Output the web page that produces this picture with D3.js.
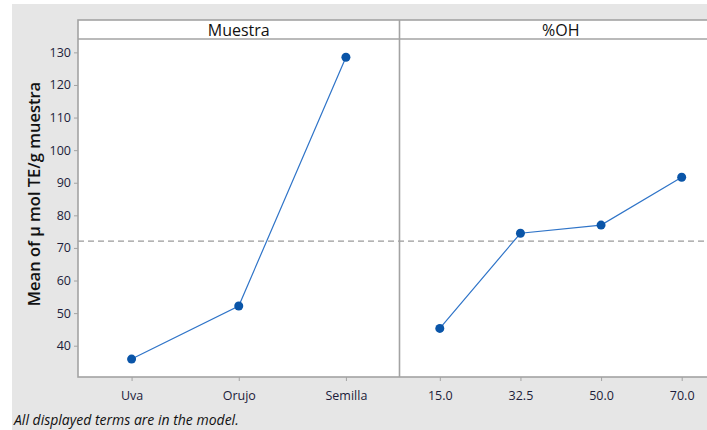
<!DOCTYPE html>
<html>
<head>
<meta charset="utf-8">
<script src="https://cdn.jsdelivr.net/npm/d3@7"></script>
<style>
  html, body { margin: 0; padding: 0; background: #ffffff; }
  svg { display: block; }
</style>
</head>
<body>
<svg id="chart" width="707" height="430"></svg>
<script>
// Main effects plot for antioxidant capacity (μmol TE/g sample)
const muestraLevels = ["Uva", "Orujo", "Semilla"];
const muestraMeans = [35.9, 52.2, 128.5];
const ohLevels = ["15.0", "32.5", "50.0", "70.0"];
const ohMeans = [45.3, 74.5, 77.0, 91.7];
const grandMean = 72.1;
const yTicks = [40, 50, 60, 70, 80, 90, 100, 110, 120, 130];
const panelTitles = ["Muestra", "%OH"];
const yLabel = "Mean of μ mol TE/g muestra";
const footnote = "All displayed terms are in the model.";

const svg = d3.select("#chart");
const font = "'Segoe UI', 'Open Sans', 'Noto Sans', sans-serif";
const frameColor = "#a3a3a3";
const textColor = "#1c1c3a";
const lineColor = "#2f74c8";
const dotColor = "#0a55a8";

// page background
svg.append("rect").attr("x", 12).attr("y", 4).attr("width", 707).attr("height", 430)
  .attr("fill", "#e6e6e6");

const plotTop = 20, stripBottom = 39, plotBottom = 377;
const panels = [
  { x0: 78, x1: 399.5, levels: muestraLevels, means: muestraMeans, title: panelTitles[0] },
  { x0: 399.5, x1: 722, levels: ohLevels, means: ohMeans, title: panelTitles[1] }
];

const y = d3.scaleLinear().domain([30.4, 134.1]).range([plotBottom, stripBottom]);

// white plotting area
svg.append("rect").attr("x", panels[0].x0).attr("y", plotTop)
  .attr("width", panels[1].x1 - panels[0].x0).attr("height", plotBottom - plotTop)
  .attr("fill", "#ffffff");

// overall mean reference line
svg.append("line")
  .attr("x1", panels[0].x0).attr("x2", panels[1].x1)
  .attr("y1", y(grandMean)).attr("y2", y(grandMean))
  .attr("stroke", "#9a9a9a").attr("stroke-width", 1.2)
  .attr("stroke-dasharray", "6,4");

panels.forEach(p => {
  const x = d3.scalePoint().domain(p.levels).range([p.x0, p.x1]).padding(0.5);

  // strip header
  svg.append("text")
    .attr("x", (p.x0 + p.x1) / 2).attr("y", 35.5)
    .attr("text-anchor", "middle")
    .attr("font-family", font).attr("font-size", 16).attr("font-weight", 500)
    .attr("fill", "#111111")
    .text(p.title);

  // x axis
  const xAxis = d3.axisBottom(x).tickSize(4).tickSizeOuter(0);
  const gx = svg.append("g").attr("transform", `translate(0,${plotBottom})`).call(xAxis);
  gx.select(".domain").remove();
  gx.selectAll(".tick line").attr("stroke", frameColor);
  gx.selectAll(".tick text")
    .attr("dy", "1.3em")
    .attr("font-family", font).attr("font-size", 12.5)
    .attr("fill", textColor);

  // connecting line and points
  const pts = p.levels.map((lv, i) => [x(lv), y(p.means[i])]);
  svg.append("path")
    .attr("d", d3.line()(pts))
    .attr("fill", "none").attr("stroke", lineColor).attr("stroke-width", 1.2);
  svg.selectAll(null).data(pts).enter().append("circle")
    .attr("cx", d => d[0]).attr("cy", d => d[1]).attr("r", 4.5)
    .attr("fill", dotColor);
});

// y axis
const yAxis = d3.axisLeft(y).tickValues(yTicks).tickSize(4).tickSizeOuter(0);
const gy = svg.append("g").attr("transform", `translate(${panels[0].x0},0)`).call(yAxis);
gy.select(".domain").remove();
gy.selectAll(".tick line").attr("stroke", frameColor);
gy.selectAll(".tick text")
  .attr("x", -7)
  .attr("font-family", font).attr("font-size", 12.5)
  .attr("fill", textColor);

// panel frames
const frame = svg.append("g").attr("fill", "none").attr("stroke", frameColor).attr("stroke-width", 1.6);
frame.append("rect").attr("x", panels[0].x0).attr("y", plotTop)
  .attr("width", panels[1].x1 - panels[0].x0).attr("height", plotBottom - plotTop);
frame.append("line").attr("x1", panels[0].x0).attr("x2", panels[1].x1)
  .attr("y1", stripBottom).attr("y2", stripBottom);
frame.append("line").attr("x1", panels[1].x0).attr("x2", panels[1].x0)
  .attr("y1", plotTop).attr("y2", plotBottom);

// y axis title
svg.append("text")
  .attr("transform", `translate(40,194) rotate(-90)`)
  .attr("text-anchor", "middle")
  .attr("font-family", font).attr("font-size", 16.5).attr("font-weight", 600)
  .attr("fill", "#111111")
  .text(yLabel);

// footnote
svg.append("text")
  .attr("x", 14).attr("y", 425)
  .attr("font-family", font).attr("font-size", 14).attr("font-style", "italic")
  .attr("fill", "#111111")
  .text(footnote);
</script>
</body>
</html>
